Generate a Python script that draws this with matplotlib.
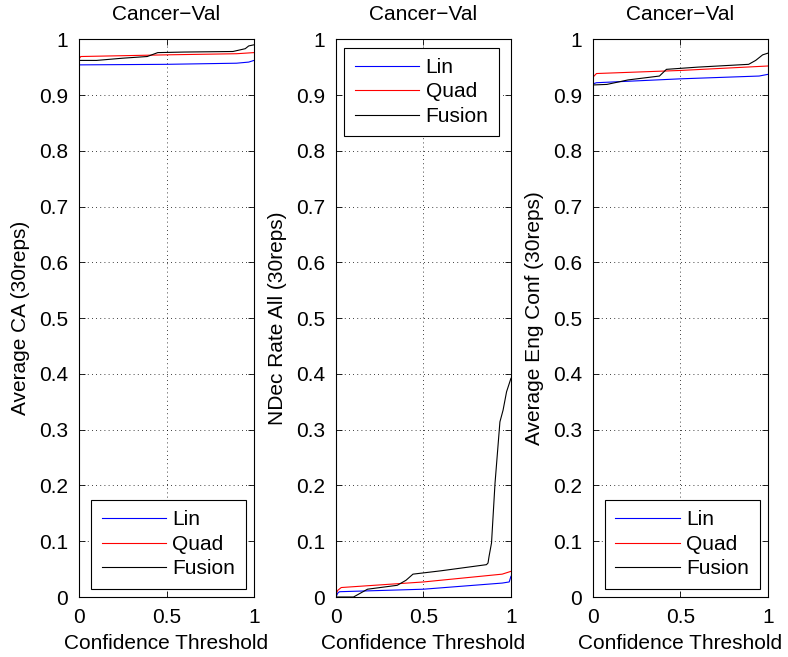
import matplotlib
matplotlib.use("Agg")
import matplotlib.pyplot as plt

plt.rcParams["font.family"] = ["Liberation Sans", "DejaVu Sans"]
plt.rcParams["font.size"] = 15

TITLE = "Cancer\u2212Val"
XLABEL = "Confidence Threshold"
SERIES = ["Lin", "Quad", "Fusion"]
COLORS = {"Lin": "#0000ff", "Quad": "#ff0000", "Fusion": "#000000"}

# ---- panel 1: Average CA ----
ca_lin_x = [0.0, 0.5, 0.9, 0.97, 1.0]
ca_lin_y = [0.954, 0.955, 0.957, 0.959, 0.962]
ca_quad_x = [0.0, 0.01, 0.5, 0.9, 1.0]
ca_quad_y = [0.965, 0.969, 0.972, 0.974, 0.976]
ca_fus_x = [0.0, 0.1, 0.25, 0.39, 0.45, 0.6, 0.88, 0.95, 0.97, 1.0]
ca_fus_y = [0.962, 0.962, 0.966, 0.969, 0.976, 0.977, 0.978, 0.983, 0.988, 0.990]

# ---- panel 2: NDec rate ----
nd_lin_x = [0.0, 0.01, 0.02, 0.5, 0.95, 0.99, 1.0]
nd_lin_y = [0.0, 0.007, 0.0095, 0.014, 0.025, 0.027, 0.037]
nd_quad_x = [0.0, 0.01, 0.03, 0.5, 0.95, 1.0]
nd_quad_y = [0.005, 0.012, 0.017, 0.027, 0.041, 0.046]
nd_fus_x = [0.0, 0.1, 0.18, 0.35, 0.40, 0.44, 0.6, 0.86, 0.869, 0.875, 0.889,
            0.909, 0.937, 0.955, 0.975, 1.0]
nd_fus_y = [0.0, 0.0, 0.014, 0.021, 0.030, 0.041, 0.047, 0.058, 0.061, 0.073, 0.097,
            0.204, 0.314, 0.335, 0.368, 0.392]

# ---- panel 3: Average Eng Conf ----
ec_lin_x = [0.0, 0.02, 0.5, 0.95, 1.0]
ec_lin_y = [0.920, 0.922, 0.929, 0.934, 0.937]
ec_quad_x = [0.0, 0.02, 0.5, 1.0]
ec_quad_y = [0.932, 0.9385, 0.944, 0.952]
ec_fus_x = [0.0, 0.08, 0.2, 0.38, 0.42, 0.6, 0.89, 0.93, 0.97, 1.0]
ec_fus_y = [0.918, 0.919, 0.927, 0.934, 0.946, 0.950, 0.955, 0.962, 0.972, 0.975]

PANELS = [
    ("Average CA (30reps)", [(ca_lin_x, ca_lin_y), (ca_quad_x, ca_quad_y), (ca_fus_x, ca_fus_y)], "lower right"),
    ("NDec Rate All (30reps)", [(nd_lin_x, nd_lin_y), (nd_quad_x, nd_quad_y), (nd_fus_x, nd_fus_y)], "upper left"),
    ("Average Eng Conf (30reps)", [(ec_lin_x, ec_lin_y), (ec_quad_x, ec_quad_y), (ec_fus_x, ec_fus_y)], "lower right"),
]

fig = plt.figure(figsize=(7.88, 6.57), dpi=100)
lefts = [0.1003, 0.4264, 0.7525]

for left, (ylabel, data, loc) in zip(lefts, PANELS):
    ax = fig.add_axes([left, 0.0913, 0.222, 0.849])
    for name, (xs, ys) in zip(SERIES, data):
        ax.plot(xs, ys, color=COLORS[name], linewidth=0.8, label=name)
    ax.set_xlim(0, 1)
    ax.set_ylim(0, 1)
    ax.set_xticks([0, 0.5, 1])
    ax.set_xticklabels(["0", "0.5", "1"])
    yt = [i / 10 for i in range(11)]
    ax.set_yticks(yt)
    ax.set_yticklabels(["0"] + [f"{v:.1f}" for v in yt[1:-1]] + ["1"])
    ax.grid(True, color="black", linestyle=(0, (1, 4)), linewidth=0.6)
    ax.tick_params(direction="in", top=True, right=True, length=4, width=0.6, pad=8)
    for s in ax.spines.values():
        s.set_linewidth(0.8)
    ax.set_title(TITLE, fontsize=15, pad=14)
    ax.set_xlabel(XLABEL, labelpad=5)
    ax.set_ylabel(ylabel, labelpad=6)
    leg = ax.legend(loc=loc, fancybox=False, edgecolor="black", framealpha=1,
                    handlelength=3.1, borderaxespad=0.4, labelspacing=0.26,
                    handletextpad=0.3, borderpad=0.5)
    leg.get_frame().set_linewidth(0.8)

fig.savefig("out.png", dpi=100, facecolor="white")
